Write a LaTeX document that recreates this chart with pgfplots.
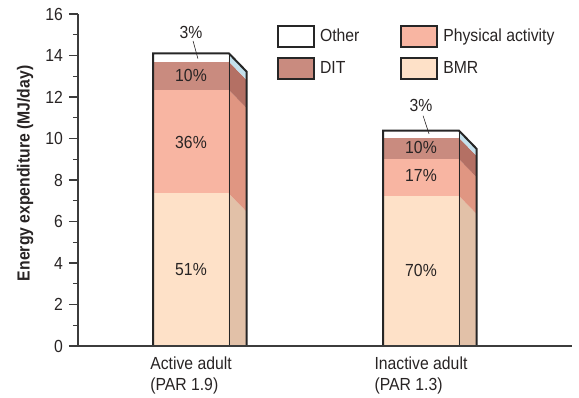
\documentclass[border=0pt]{standalone}
\usepackage{pgfplots}
\pgfplotsset{compat=1.18}
\usepackage{fontspec}
\setmainfont{Liberation Sans}[FakeStretch=0.9]

\definecolor{txt}{RGB}{40,36,36}
\definecolor{axgray}{RGB}{60,60,60}
\definecolor{othfront}{RGB}{255,255,255}
\definecolor{othside}{RGB}{196,224,236}
\definecolor{ditfront}{RGB}{201,139,127}
\definecolor{ditside}{RGB}{180,112,100}
\definecolor{pafront}{RGB}{248,181,162}
\definecolor{paside}{RGB}{224,150,130}
\definecolor{bmrfront}{RGB}{254,225,200}
\definecolor{bmrside}{RGB}{226,193,168}

\begin{document}
\fontsize{17.5}{20}\selectfont
\begin{tikzpicture}
\useasboundingbox (-78pt,-51pt) rectangle (501pt,346pt);  % same frame as the reference image
\begin{axis}[
    at={(0pt,0pt)}, anchor=south west,
    scale only axis, width=494pt, height=332pt,
    xmin=-0.4913, xmax=1.6565, ymin=0, ymax=16,
    axis x line*=bottom, axis y line*=left,
    axis line style={-, draw=axgray, line width=1.3pt},
    axis on top,
    xtick={0,1},
    xticklabels={{Active adult\\(PAR 1.9)},{Inactive adult\\(PAR 1.3)}},
    x tick label style={align=left, font=\fontsize{17.5}{21}\selectfont, text=txt, yshift=4pt},
    xtick style={draw=none},
    ytick={0,2,...,16},
    minor y tick num=1,
    tick align=outside,
    major tick length=9pt, minor tick length=5pt,
    y tick style={draw=axgray, line width=1.1pt},
    minor y tick style={draw=axgray, line width=1.1pt},
    y tick label style={font=\fontsize{17.5}{20}\selectfont, text=txt},
    /pgf/number format/assume math mode=true,
    ylabel={Energy expenditure (MJ/day)},
    every axis y label/.style={at={(axis description cs:-0.107,0.52)}, rotate=90,
        anchor=center, font=\fontsize{17.5}{20}\selectfont\bfseries, text=txt},
    legend columns=2,
    legend cell align=left,
    legend image code/.code={\draw[#1, draw=black!85, line width=1.8pt] (0pt,-10.5pt) rectangle (36pt,10.5pt);},
    legend style={at={(axis description cs:0.403,0.967)}, anchor=north west,
        draw=none, fill=none, inner sep=0pt, row sep=9pt,
        font=\fontsize{17.5}{20}\selectfont, text=txt,
        nodes={inner xsep=5pt},
        /tikz/column 2/.style={column sep=36pt}},
]
% legend entries (row-wise: Other, Physical activity / DIT, BMR)
\addlegendimage{fill=othfront}
\addlegendimage{fill=pafront}
\addlegendimage{fill=ditfront}
\addlegendimage{fill=bmrfront}
\legend{Other,Physical activity,DIT,BMR}

% ---- Active adult: BMR 7.35, PA 4.99, DIT 1.36, Other 0.40 (cumulative 7.35, 12.34, 13.70, 14.10)
\addplot[draw=none, fill=bmrfront] coordinates {(-0.165,0) (-0.165,7.35) (0.165,7.35) (0.165,0)} -- cycle;
\addplot[draw=none, fill=pafront]  coordinates {(-0.165,7.35) (-0.165,12.34) (0.165,12.34) (0.165,7.35)} -- cycle;
\addplot[draw=none, fill=ditfront] coordinates {(-0.165,12.34) (-0.165,13.70) (0.165,13.70) (0.165,12.34)} -- cycle;
\addplot[draw=none, fill=othfront] coordinates {(-0.165,13.70) (-0.165,14.10) (0.165,14.10) (0.165,13.70)} -- cycle;
% side faces (shifted right and down)
\addplot[draw=none, fill=bmrside] coordinates {(0.165,0) (0.165,7.35) (0.242,6.47) (0.242,-0.88)} -- cycle;
\addplot[draw=none, fill=paside]  coordinates {(0.165,7.35) (0.165,12.34) (0.242,11.46) (0.242,6.47)} -- cycle;
\addplot[draw=none, fill=ditside] coordinates {(0.165,12.34) (0.165,13.70) (0.242,12.82) (0.242,11.46)} -- cycle;
\addplot[draw=none, fill=othside] coordinates {(0.165,13.70) (0.165,14.10) (0.242,13.22) (0.242,12.82)} -- cycle;
\addplot[draw=black!85, line width=0.8pt] coordinates {(0.165,0) (0.165,14.10)};
\addplot[draw=black!85, line width=2pt, line join=miter] coordinates {(-0.165,0) (-0.165,14.10) (0.165,14.10) (0.242,13.22) (0.242,0)};

% ---- Inactive adult: BMR 7.24, PA 1.77, DIT 1.03, Other 0.34 (cumulative 7.24, 9.01, 10.04, 10.38)
\addplot[draw=none, fill=bmrfront] coordinates {(0.835,0) (0.835,7.24) (1.165,7.24) (1.165,0)} -- cycle;
\addplot[draw=none, fill=pafront]  coordinates {(0.835,7.24) (0.835,9.01) (1.165,9.01) (1.165,7.24)} -- cycle;
\addplot[draw=none, fill=ditfront] coordinates {(0.835,9.01) (0.835,10.04) (1.165,10.04) (1.165,9.01)} -- cycle;
\addplot[draw=none, fill=othfront] coordinates {(0.835,10.04) (0.835,10.38) (1.165,10.38) (1.165,10.04)} -- cycle;
\addplot[draw=none, fill=bmrside] coordinates {(1.165,0) (1.165,7.24) (1.242,6.36) (1.242,-0.88)} -- cycle;
\addplot[draw=none, fill=paside]  coordinates {(1.165,7.24) (1.165,9.01) (1.242,8.13) (1.242,6.36)} -- cycle;
\addplot[draw=none, fill=ditside] coordinates {(1.165,9.01) (1.165,10.04) (1.242,9.16) (1.242,8.13)} -- cycle;
\addplot[draw=none, fill=othside] coordinates {(1.165,10.04) (1.165,10.38) (1.242,9.50) (1.242,9.16)} -- cycle;
\addplot[draw=black!85, line width=0.8pt] coordinates {(1.165,0) (1.165,10.38)};
\addplot[draw=black!85, line width=2pt, line join=miter] coordinates {(0.835,0) (0.835,10.38) (1.165,10.38) (1.242,9.50) (1.242,0)};

% percentage labels
\node[text=txt] at (axis cs:0,3.67) {51\%};
\node[text=txt] at (axis cs:0,9.80) {36\%};
\node[text=txt] at (axis cs:0,13.03) {10\%};
\node[text=txt] at (axis cs:0,15.10) {3\%};
\draw[txt, line width=0.6pt] (axis cs:0.009,14.70) -- (axis cs:0.030,13.85);
\node[text=txt] at (axis cs:1,3.62) {70\%};
\node[text=txt] at (axis cs:1,8.20) {17\%};
\node[text=txt] at (axis cs:1,9.55) {10\%};
\node[text=txt] at (axis cs:1,11.60) {3\%};
\draw[txt, line width=0.6pt] (axis cs:1.009,11.10) -- (axis cs:1.035,10.22);
\end{axis}
\end{tikzpicture}
\end{document}
